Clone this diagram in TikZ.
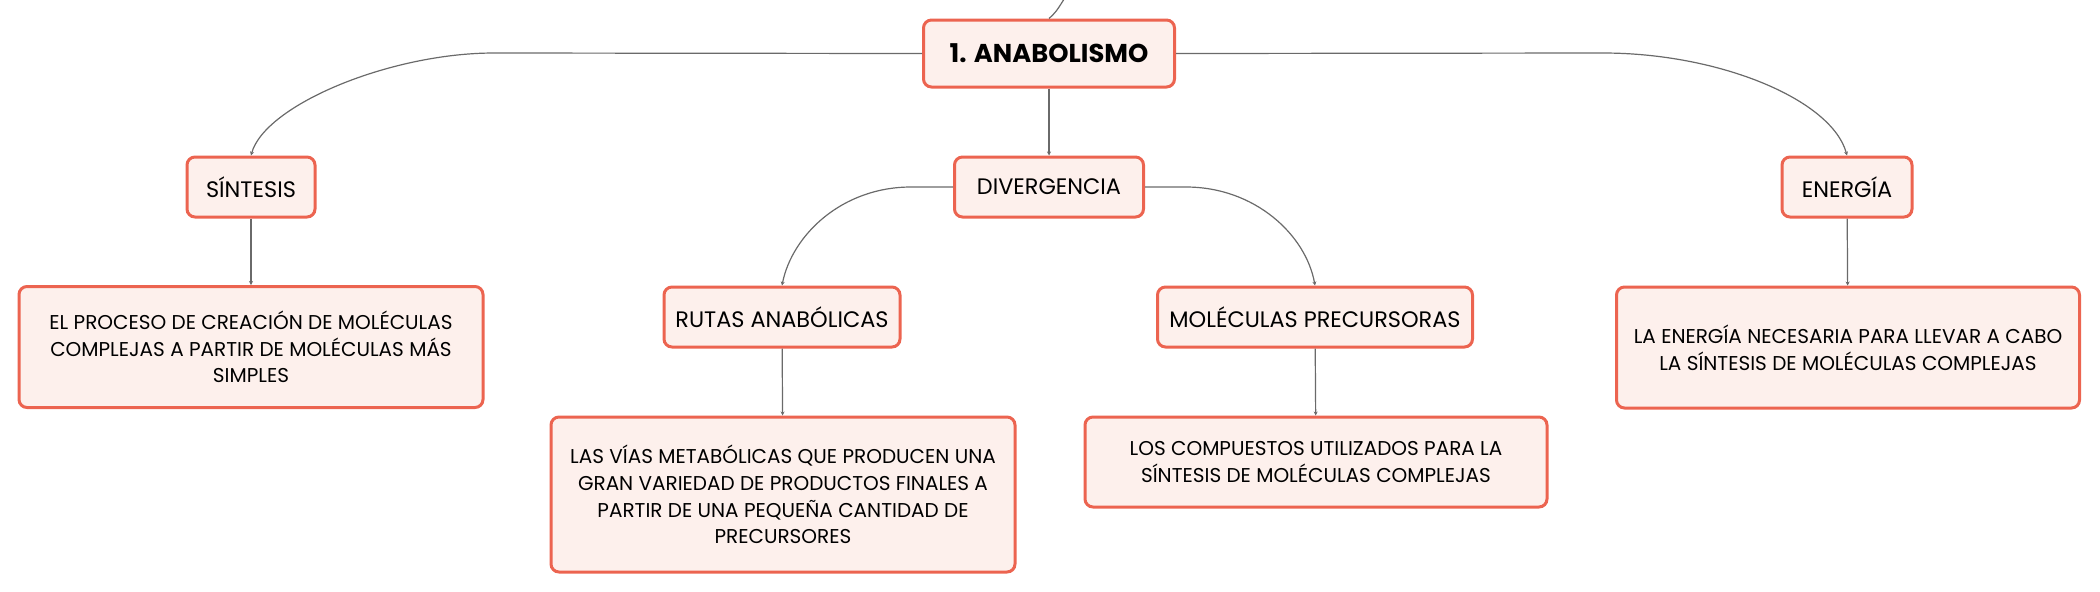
\documentclass[tikz,border=0pt]{standalone}
\usepackage{fontspec}
\setmainfont{Poppins}
\usepackage{tikz}
\usetikzlibrary{arrows.meta}
\definecolor{boxline}{HTML}{EC6450}
\definecolor{boxfill}{HTML}{FDF0EC}
\definecolor{linkgray}{HTML}{6A6A6A}

\begin{document}
\begin{tikzpicture}[x=0.5pt,y=-0.5pt,
        box/.style={draw=boxline, fill=boxfill, line width=1.5pt, rounded corners=4pt,
            align=center, inner sep=0pt, font=\fontsize{11.2}{13}\selectfont},
        desc/.style={box, font=\fontsize{10}{13.3}\selectfont},
        link/.style={draw=linkgray, line width=0.6pt, -{Stealth[length=2pt,width=2pt]}}]
            \useasboundingbox (0,0) rectangle (2100,591);
            \node[box, minimum width=125.5pt, minimum height=33.5pt, font=\fontsize{12.9}{15}\bfseries] (anab) at (1049,53.5) {1. ANABOLISMO};
            \node[box, minimum width=64pt, minimum height=30pt] (sint) at (251,187) {SÍNTESIS};
            \node[box, minimum width=94.5pt, minimum height=30pt] (div) at (1049,187) {DIVERGENCIA};
            \node[box, minimum width=65pt, minimum height=30pt] (ener) at (1847,187) {ENERGÍA};
            \node[box, minimum width=118pt, minimum height=30pt] (rutas) at (782,317) {RUTAS ANABÓLICAS};
            \node[box, minimum width=157.5pt, minimum height=30pt] (prec) at (1315,317) {MOLÉCULAS PRECURSORAS};
            \node[desc, minimum width=232pt, minimum height=60.5pt] (sintd) at (251,347) {EL PROCESO DE CREACIÓN DE MOLÉCULAS\\COMPLEJAS A PARTIR DE MOLÉCULAS MÁS\\SIMPLES};
            \node[desc, minimum width=232pt, minimum height=77.5pt] (rutasd) at (783,494.5) {LAS VÍAS METABÓLICAS QUE PRODUCEN UNA\\GRAN VARIEDAD DE PRODUCTOS FINALES A\\PARTIR DE UNA PEQUEÑA CANTIDAD DE\\PRECURSORES};
            \node[desc, minimum width=231pt, minimum height=45pt] (precd) at (1316,462) {LOS COMPUESTOS UTILIZADOS PARA LA\\SÍNTESIS DE MOLÉCULAS COMPLEJAS};
            \node[desc, minimum width=231.5pt, minimum height=60.5pt] (enerd) at (1848,347.5) {LA ENERGÍA NECESARIA PARA LLEVAR A CABO\\LA SÍNTESIS DE MOLÉCULAS COMPLEJAS};
            \coordinate (up) at (1066,-4);
            % branches of the main node
            \draw[draw=linkgray, line width=0.6pt] (anab.north) .. controls (1056,12) .. (up);
            \draw[link] (anab.west) -- (494,53) .. controls (390,53) and (265,105) .. (sint.north);
            \draw[link] (anab.east) -- (1603,53) .. controls (1720,53) and (1832,100) .. (ener.north);
            \draw[link] (anab) -- (div);
            % divergence
            \draw[link] (div.west) -- (911,187) .. controls (842,187) and (792,235) .. (rutas.north);
            \draw[link] (div.east) -- (1186,187) .. controls (1255,187) and (1306,235) .. (prec.north);
            \draw[link] (sint) -- (sintd);
            \draw[link] (ener) -- (enerd);
            \draw[link] (rutas) -- (rutasd);
            \draw[link] (prec) -- (precd);
\end{tikzpicture}
\end{document}
